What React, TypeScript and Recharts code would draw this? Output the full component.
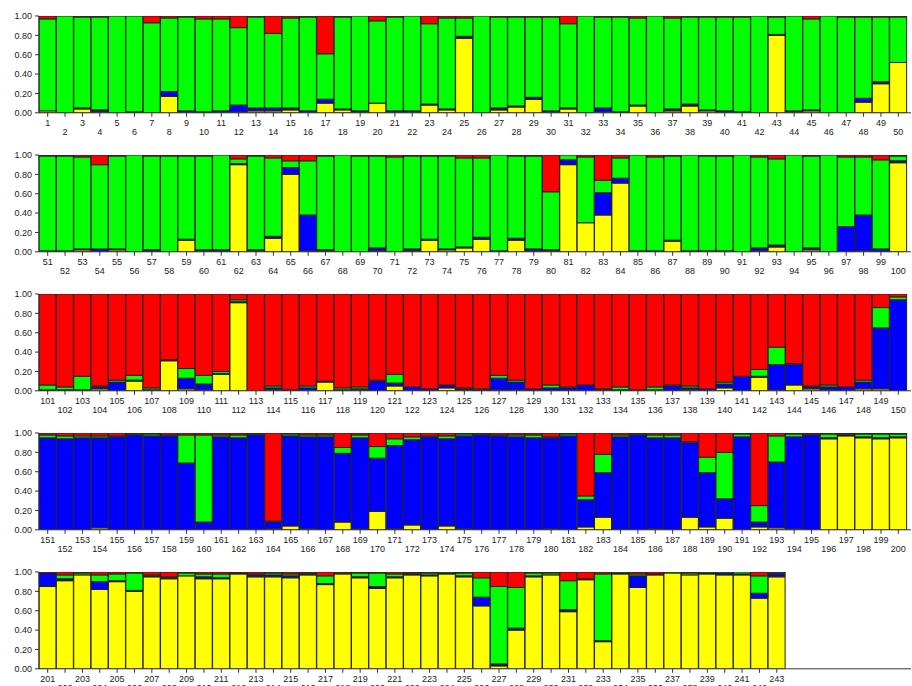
import React from 'react';
import { BarChart, Bar, XAxis, YAxis } from 'recharts';

// Cluster membership proportions for individuals 1..243 (bottom to top: yellow, blue, green, red)
const yellow = [
  .02, 0, .04, .01, 0, 0, 0, .17, 0, 0,
  0, .01, .02, .02, .03, 0, .10, .03, .01, .10,
  0, .01, .08, .03, .77, 0, .03, .06, .14, 0,
  .04, 0, .01, 0, .07, 0, .02, .07, .02, 0,
  0, 0, .80, .01, .02, 0, 0, .11, .30, .52,
  .01, .01, .02, 0, .02, 0, 0, 0, .12, .01,
  0, .90, .01, .14, .80, .01, .01, 0, 0, .01,
  0, .01, .12, .02, .04, .13, 0, .12, .01, .01,
  .90, .30, .38, .71, 0, 0, .11, 0, .01, .01,
  0, .01, .05, 0, .02, 0, 0, .01, 0, .92,
  0, 0, 0, .02, 0, .10, 0, .31, .02, .01,
  .17, .91, 0, .01, 0, 0, .09, 0, .01, 0,
  .05, 0, 0, .03, .01, 0, .01, .01, 0, 0,
  0, 0, .01, 0, 0, .01, 0, .01, 0, .03,
  0, .14, .01, .06, .02, .01, 0, .02, .02, 0,
  0, 0, 0, .02, 0, 0, 0, 0, 0, 0,
  0, 0, 0, .01, .04, .01, 0, .08, .01, .19,
  .01, .05, 0, .04, .01, 0, 0, 0, 0, .01,
  0, .03, .13, 0, 0, .01, 0, .13, .03, .12,
  0, .03, .02, .01, 0, .94, .97, .95, .94, .95,
  .85, .91, .97, .82, .90, .80, .95, .93, .96, .93,
  .93, .98, .95, .95, .94, .97, .87, .98, .94, .83,
  .94, .97, .96, .98, .95, .65, .03, .40, .95, .97,
  .59, .92, .28, .98, .84, .97, .99, .97, .98, .97,
  .97, .73, .95,
];

const blue = [
  0, 0, .01, .02, 0, .01, 0, .05, .02, .01,
  .02, .07, .03, .03, .02, .02, .04, .01, .01, 0,
  .02, .01, .01, .01, .02, 0, .02, .01, .02, .02,
  .01, 0, .04, .01, .01, 0, .02, .02, .01, .02,
  .01, 0, .01, .01, .01, 0, 0, .04, .02, 0,
  0, 0, .01, .03, .01, 0, .02, 0, .01, .01,
  .02, .01, .01, .02, .07, .37, .01, 0, 0, .03,
  0, .02, .01, .01, .01, .02, .01, .02, .02, .01,
  .05, 0, .23, .05, .01, .01, .01, .01, 0, 0,
  0, .03, .02, 0, .02, 0, .26, .37, .03, .02,
  .01, .01, .01, .02, .09, .01, .01, .01, .11, .06,
  .01, .01, 0, .02, .01, .03, .01, .01, .01, .10,
  .03, .04, .02, .03, .01, .01, .12, .08, .02, .03,
  .03, .06, .01, .01, .01, 0, .05, .02, .02, .04,
  .15, .01, .26, .21, .02, .03, .04, .07, .63, .94,
  .95, .94, .95, .93, .96, .98, .97, .97, .69, .08,
  .96, .95, .98, .07, .93, .95, .96, .71, .94, .55,
  .86, .88, .96, .90, .96, .98, .97, .96, .95, .94,
  .97, .28, .46, .96, .98, .94, .95, .77, .56, .20,
  .96, .05, .68, .95, .98, .01, .01, .01, .01, .01,
  .14, .02, 0, .08, .01, .01, .01, .01, 0, .02,
  .01, .01, .02, .02, .02, .01, .01, 0, .01, .02,
  .01, .01, .01, .01, .01, .09, .02, .02, .01, 0,
  .02, .01, .01, .01, .12, .01, 0, 0, .01, .02,
  .01, .05, .03,
];

const green = [
  .95, 1, .94, .96, 1, .99, .93, .76, .97, .96,
  .95, .80, .94, .77, .93, .97, .47, .95, .98, .85,
  .97, .98, .83, .94, .19, 1, .94, .92, .83, .97,
  .87, 1, .94, .98, .90, 1, .94, .90, .96, .97,
  .98, 1, .18, .98, .94, 1, .99, .84, .67, .47,
  .98, .98, .95, .87, .96, 1, .97, .99, .86, .97,
  .98, .05, .97, .81, .07, .56, .97, 1, .99, .95,
  .98, .96, .86, .96, .92, .82, .99, .85, .96, .60,
  .05, .68, .13, .21, .99, .97, .87, .99, .98, .98,
  1, .94, .89, 1, .95, 1, .72, .60, .92, .05,
  .05, .03, .14, .01, .02, .05, .02, 0, .10, .09,
  .02, .02, 0, .02, 0, .02, 0, .02, .02, .01,
  .09, 0, 0, 0, .01, .01, .03, .02, 0, .03,
  .01, 0, 0, .03, 0, .03, .01, .02, 0, .02,
  0, .07, .18, .01, .01, .02, 0, .02, .21, .03,
  .03, .03, .02, .02, .01, .01, .02, .01, .29, .90,
  .02, .03, .01, .01, .02, .02, .02, .06, .03, .12,
  .07, .03, .01, .03, .02, .01, .01, .02, .03, .01,
  .02, .04, .19, .02, .01, .03, .03, .01, .16, .48,
  .03, .17, .27, .03, .01, .04, .01, .03, .04, .03,
  0, .04, .02, .07, .07, .18, .01, .01, .03, .03,
  .04, 0, .01, .02, .02, .01, .08, .01, .04, .14,
  .03, .01, .02, .01, .03, .20, .80, .42, .03, .02,
  .30, 0, .69, .01, .02, 0, .01, .02, .01, .01,
  .02, .18, .01,
];

const red = [
  .03, 0, .01, .01, 0, 0, .07, .02, .01, .03,
  .03, .12, .01, .18, .02, .01, .39, .01, 0, .05,
  .01, 0, .08, .02, .02, 0, .01, .01, .01, .01,
  .08, 0, .01, .01, .02, 0, .02, .01, .01, .01,
  .01, 0, .01, 0, .03, 0, .01, .01, .01, .01,
  .01, .01, .02, .10, .01, 0, .01, .01, .01, .01,
  0, .04, .01, .03, .06, .06, .01, 0, .01, .01,
  .02, .01, .01, .01, .03, .03, 0, .01, .01, .38,
  0, .02, .26, .03, 0, .02, .01, 0, .01, .01,
  0, .02, .04, 0, .01, 0, .02, .02, .05, .01,
  .94, .96, .85, .95, .89, .84, .97, .68, .77, .84,
  .80, .06, 1, .95, .99, .95, .90, .97, .96, .89,
  .83, .96, .98, .94, .97, .98, .84, .89, .98, .94,
  .96, .94, .98, .96, .99, .96, .94, .95, .98, .91,
  .85, .78, .55, .72, .95, .94, .96, .89, .14, .03,
  .02, .03, .03, .03, .03, .01, .01, .02, .02, .02,
  .02, .02, .01, .91, .01, .02, .02, .15, .02, .14,
  .06, .04, .03, .03, .01, .01, .02, .02, .02, .04,
  .01, .65, .22, .02, .01, .02, .02, .09, .25, .20,
  .01, .75, .03, .01, .01, .01, .01, .01, .01, .01,
  .01, .03, .01, .03, .02, .01, .03, .05, .01, .02,
  .02, .01, .02, .01, .02, .01, .04, .01, .01, .01,
  .02, .01, .01, 0, .01, .06, .15, .16, .01, .01,
  .09, .07, .02, 0, .02, .02, 0, .01, 0, 0,
  0, .04, .01,
];

const individuals = yellow.map((_, i) => String(i + 1));
const yTicks = [0, 0.2, 0.4, 0.6, 0.8, 1];
const rowRanges: [number, number][] = [[0, 50], [50, 100], [100, 150], [150, 200], [200, 243]];

const rowTops = [15.7, 154.7, 294, 432.7, 571.7];
const FONT = '"Liberation Sans", Arial, sans-serif';
const BAND = 17.36;
const PLOT_LEFT = 39;
const AXIS_END = 911;
const PLOT_H = 96.8;
const X_AXIS_H = 28;

const XTick = (props: any) => {
  const { x, y, payload } = props;
  const n = Number(payload.value);
  const odd = n % 2 === 1;
  return (
    <text x={x} y={y} dy={odd ? 9.4 : 17.8} textAnchor="middle" fontSize={9} fill="#222" fontFamily={FONT}>
      {payload.value}
    </text>
  );
};

const Row = ({ start, end, top }: { start: number; end: number; top: number }) => {
  const data = [];
  for (let i = start; i < end; i++) {
    data.push({ id: individuals[i], y: yellow[i], b: blue[i], g: green[i], r: red[i] });
  }
  const barsWidth = (end - start) * BAND;
  const padRight = AXIS_END - PLOT_LEFT - barsWidth;
  return (
    <div style={{ position: 'absolute', left: 0, top: top - 8 }}>
      <BarChart
        width={912}
        height={8 + PLOT_H + X_AXIS_H}
        data={data}
        margin={{ top: 8, right: 912 - AXIS_END, bottom: 0, left: 0 }}
        barCategoryGap={0}
        barGap={0}
      >
        <XAxis
          dataKey="id"
          height={X_AXIS_H}
          interval={0}
          tickSize={4}
          tickMargin={0}
          tick={<XTick />}
          padding={{ left: 0, right: padRight }}
          stroke="#333"
          tickLine={{ stroke: '#333' }}
        />
        <YAxis
          width={PLOT_LEFT}
          domain={[0, 1]}
          allowDataOverflow
          ticks={yTicks}
          interval={0}
          tickFormatter={(v: number) => v.toFixed(2)}
          tickSize={4}
          tickMargin={3}
          tick={{ fontSize: 9, fill: '#222', fontFamily: FONT }}
          stroke="#333"
        />
        <Bar dataKey="y" stackId="s" fill="#FFFF00" stroke="#222" strokeWidth={1} isAnimationActive={false} />
        <Bar dataKey="b" stackId="s" fill="#0000FF" stroke="#222" strokeWidth={1} isAnimationActive={false} />
        <Bar dataKey="g" stackId="s" fill="#00FF00" stroke="#222" strokeWidth={1} isAnimationActive={false} />
        <Bar dataKey="r" stackId="s" fill="#FF0000" stroke="#222" strokeWidth={1} isAnimationActive={false} />
      </BarChart>
    </div>
  );
};

export default function App() {
  return (
    <div style={{ position: 'absolute', left: 0, top: 0, width: 912, height: 686, overflow: 'hidden', background: '#fff' }}>
      {rowRanges.map(([s, e], k) => (
        <Row key={k} start={s} end={e} top={rowTops[k]} />
      ))}
    </div>
  );
}
